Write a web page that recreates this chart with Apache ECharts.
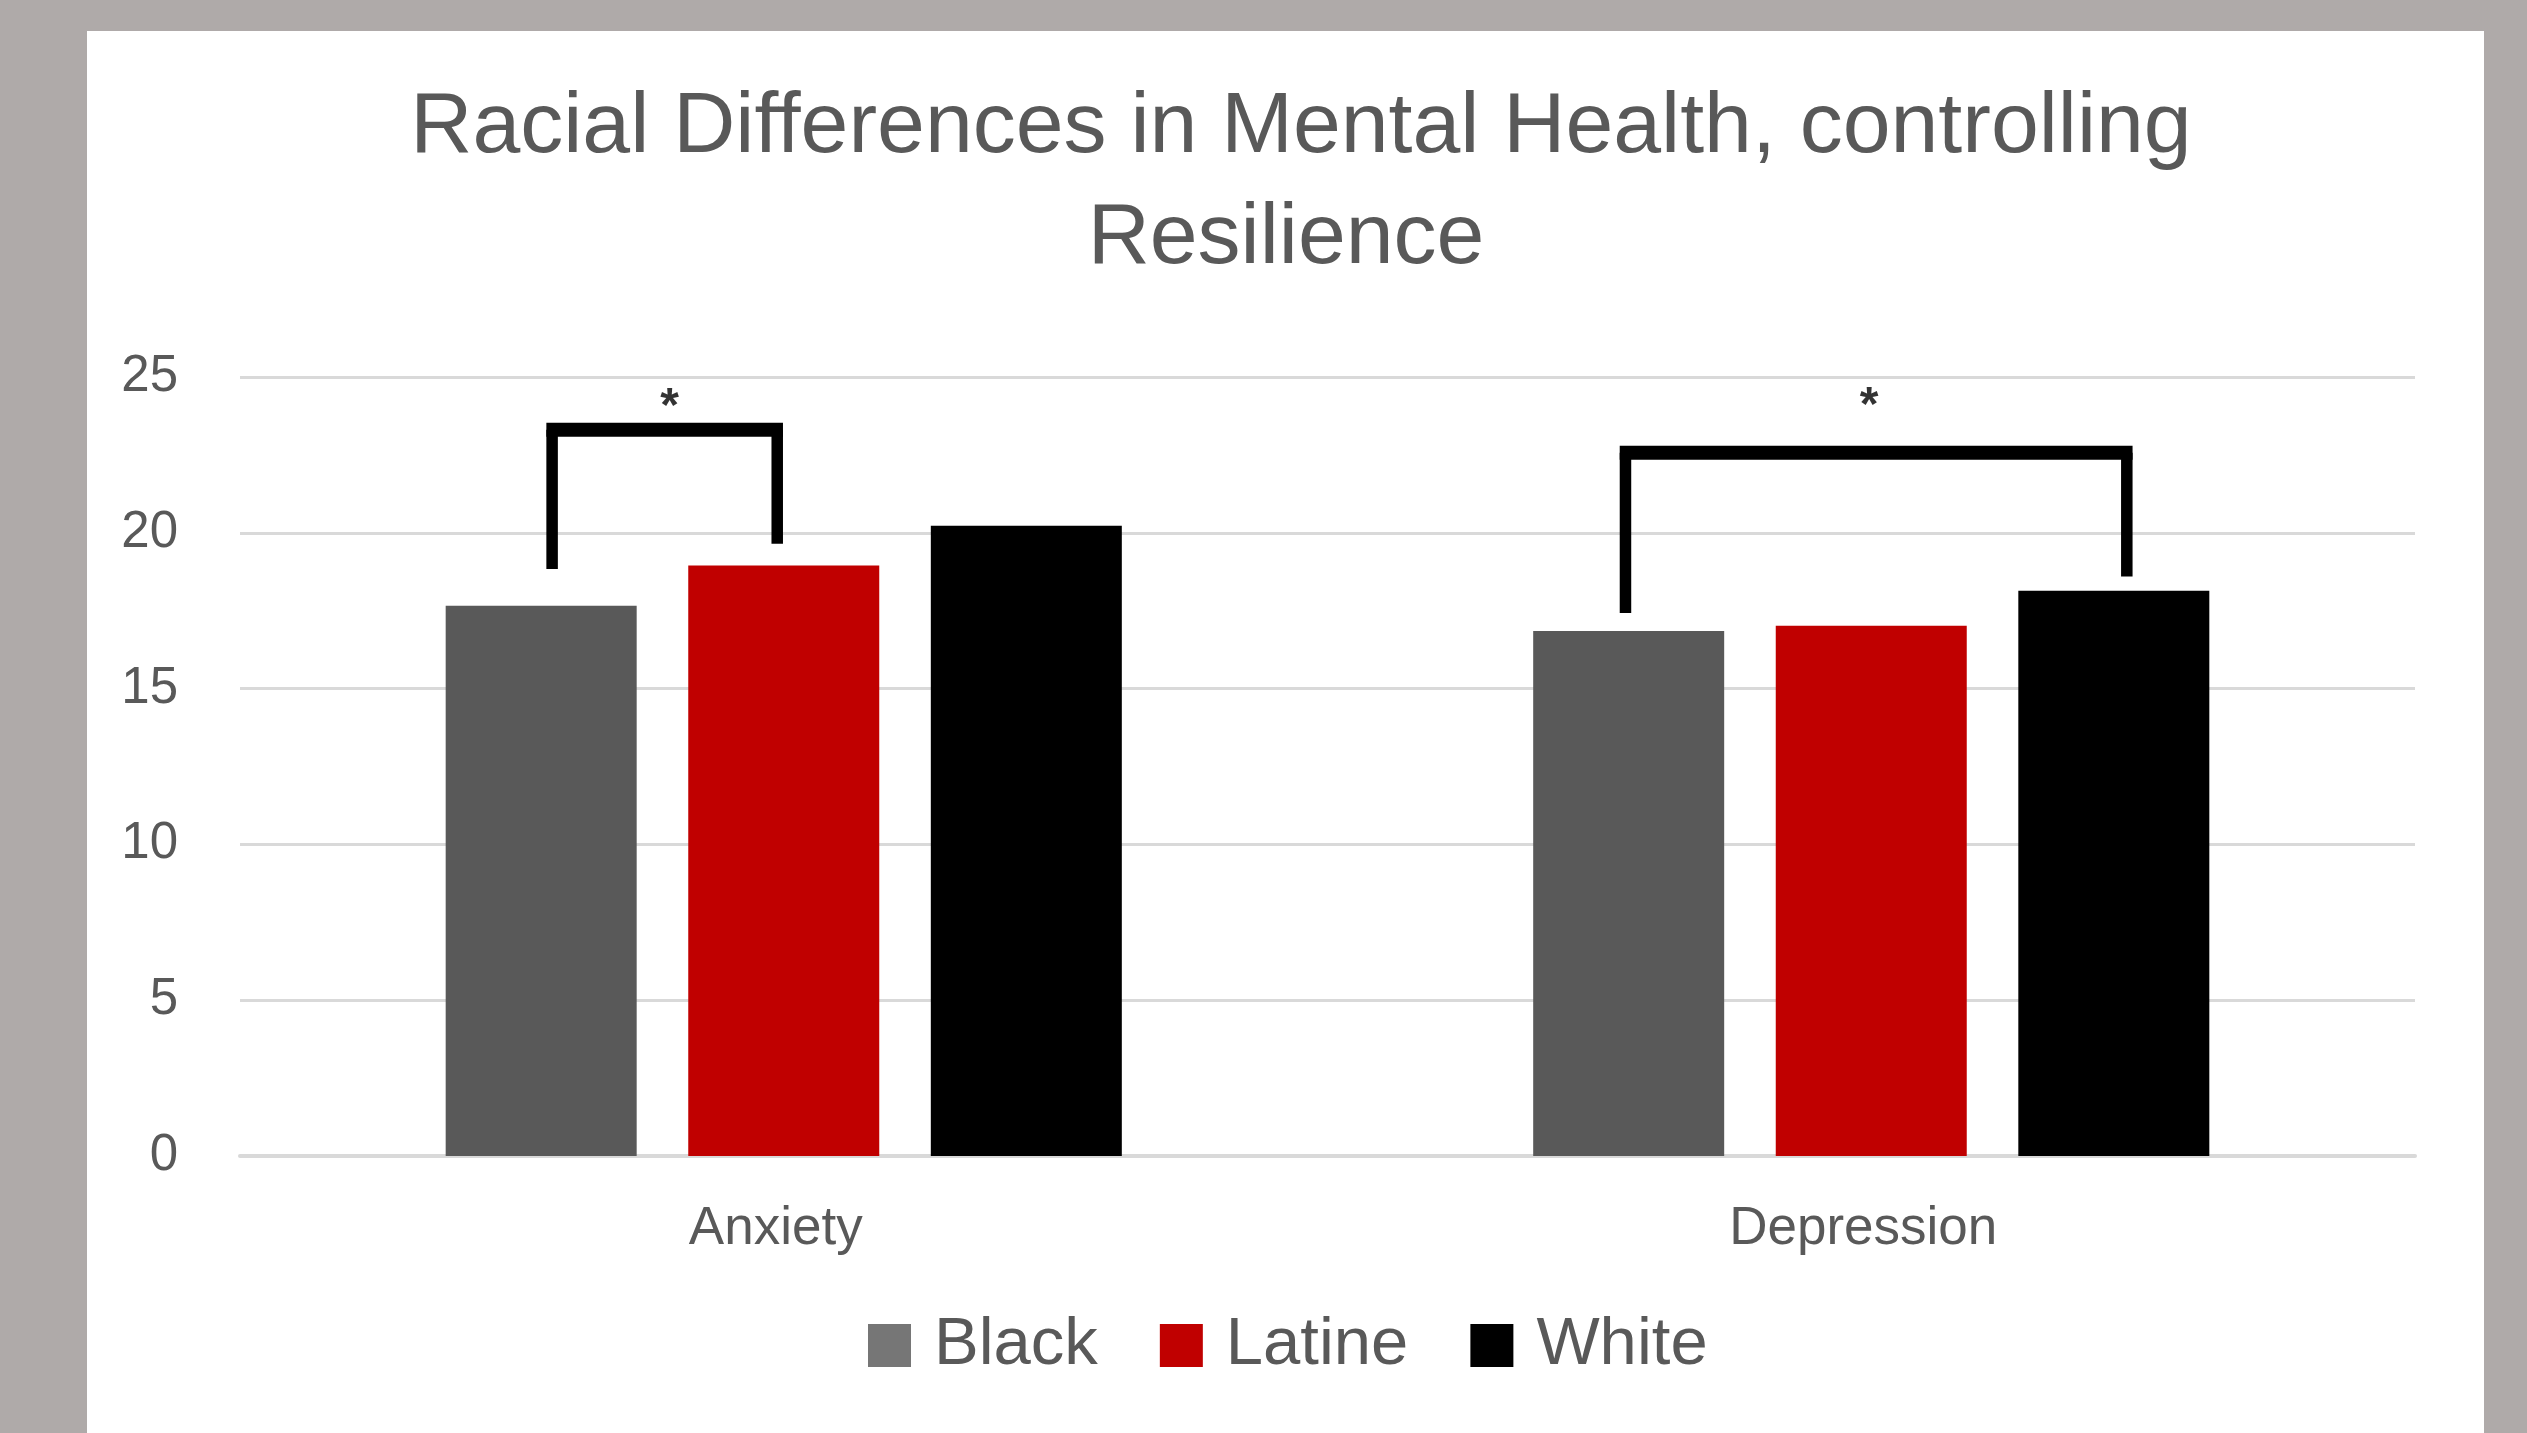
<!DOCTYPE html>
<html>
<head>
<meta charset="utf-8">
<script src="https://cdn.jsdelivr.net/npm/echarts@6/dist/echarts.min.js"></script>
<style>
  html, body { margin: 0; padding: 0; background: #afaaa9; }
  #chart { width: 2527px; height: 1433px; }
</style>
</head>
<body>
<div id="chart"></div>
<script>
// ---- data ----
const titleLines = ['Racial Differences in Mental Health, controlling', 'Resilience'];
const categories = ['Anxiety', 'Depression'];
const seriesNames = ['Black', 'Latine', 'White'];
const blackValues = [17.66, 16.85];
const latineValues = [18.95, 17.02];
const whiteValues = [20.23, 18.14];
const yTicks = [0, 5, 10, 15, 20, 25];
// significance brackets: [leftX, rightX, topY, leftBottomY, rightBottomY] (x in category units)
const bracketAnxiety = [-0.213, -0.006, 23.31, 18.84, 19.65];
const bracketDepression = [0.774, 1.235, 22.57, 17.43, 18.60];
// significance stars: [x (category units), y]
const starAnxiety = [-0.105, 24.37];
const starDepression = [0.998, 24.40];

// ---- styles ----
const FONT = "'Liberation Sans', Arial, sans-serif";
const TEXT = '#595959';
const colors = { Black: '#595959', Latine: '#c00000', White: '#000000' };
const legendColors = { Black: '#767676', Latine: '#c00000', White: '#000000' };

const chart = echarts.init(document.getElementById('chart'), null, { renderer: 'canvas' });

function barSeries(name, values) {
  return {
    name: name,
    type: 'bar',
    xAxisIndex: 0,
    yAxisIndex: 0,
    data: values,
    barWidth: 191,
    barGap: '27%',
    itemStyle: { color: colors[name] },
    z: 3
  };
}

const option = {
  backgroundColor: '#afaaa9',
  animation: false,
  graphic: [{
    type: 'rect',
    left: 87, top: 31,
    shape: { width: 2397, height: 1402 },
    style: { fill: '#ffffff' },
    z: -10, silent: true
  }],
  title: [
    { text: titleLines[0], left: 1301, top: 85, textAlign: 'center', padding: 0,
      textStyle: { fontFamily: FONT, fontSize: 86, fontWeight: 'normal', color: TEXT } },
    { text: titleLines[1], left: 1286, top: 196, textAlign: 'center', padding: 0,
      textStyle: { fontFamily: FONT, fontSize: 86, fontWeight: 'normal', color: TEXT } }
  ],
  legend: {
    left: 868, top: 1312, padding: 0,
    itemWidth: 43, itemHeight: 43, itemGap: 62,
    icon: 'rect',
    data: seriesNames.map(n => ({ name: n, itemStyle: { color: legendColors[n] } })),
    textStyle: { fontFamily: FONT, fontSize: 67, color: TEXT, padding: [0, 0, 0, 18] }
  },
  grid: { left: 240, right: 112, top: 377, bottom: 277, containLabel: false, outerBoundsMode: 'none' },
  xAxis: [
    {
      type: 'category',
      data: categories,
      axisLine: { show: true, lineStyle: { color: '#d9d9d9', width: 4 } },
      axisTick: { show: false },
      axisLabel: { fontFamily: FONT, fontSize: 53, color: TEXT, margin: 47, padding: [0, 16, 0, 0] },
      splitLine: { show: false }
    },
    {
      type: 'value', min: -0.5, max: 1.5, show: false,
      splitLine: { show: false }
    }
  ],
  yAxis: {
    type: 'value',
    min: yTicks[0], max: yTicks[yTicks.length - 1], interval: yTicks[1] - yTicks[0],
    axisLine: { show: false },
    axisTick: { show: false },
    axisLabel: { fontFamily: FONT, fontSize: 51, color: TEXT, margin: 62, padding: [0, 0, 12, 0] },
    splitLine: { show: true, lineStyle: { color: '#d9d9d9', width: 3 } }
  },
  series: [
    barSeries('Black', blackValues),
    barSeries('Latine', latineValues),
    barSeries('White', whiteValues),
    {
      type: 'custom',
      xAxisIndex: 1,
      yAxisIndex: 0,
      z: 5,
      data: [bracketAnxiety, bracketDepression],
      renderItem: function (params, api) {
        const pLB = api.coord([api.value(0), api.value(3)]);
        const pLT = api.coord([api.value(0), api.value(2)]);
        const pRT = api.coord([api.value(1), api.value(2)]);
        const pRB = api.coord([api.value(1), api.value(4)]);
        const legW = 11.5, topW = 14;
        return {
          type: 'group',
          children: [
            { type: 'line', shape: { x1: pLB[0], y1: pLB[1], x2: pLT[0], y2: pLT[1] },
              style: { stroke: '#000', lineWidth: legW } },
            { type: 'line', shape: { x1: pRB[0], y1: pRB[1], x2: pRT[0], y2: pRT[1] },
              style: { stroke: '#000', lineWidth: legW } },
            { type: 'line', shape: { x1: pLT[0] - legW / 2, y1: pLT[1], x2: pRT[0] + legW / 2, y2: pRT[1] },
              style: { stroke: '#000', lineWidth: topW } }
          ]
        };
      }
    },
    {
      type: 'scatter',
      xAxisIndex: 1,
      yAxisIndex: 0,
      z: 5,
      symbol: 'circle',
      symbolSize: 0.1,
      itemStyle: { color: 'rgba(0,0,0,0)' },
      data: [starAnxiety, starDepression],
      label: {
        show: true, position: 'inside', formatter: '*',
        fontFamily: FONT, fontSize: 48, fontWeight: 'bold', color: '#000', offset: [0, 11]
      }
    }
  ]
};

chart.setOption(option);
</script>
</body>
</html>
